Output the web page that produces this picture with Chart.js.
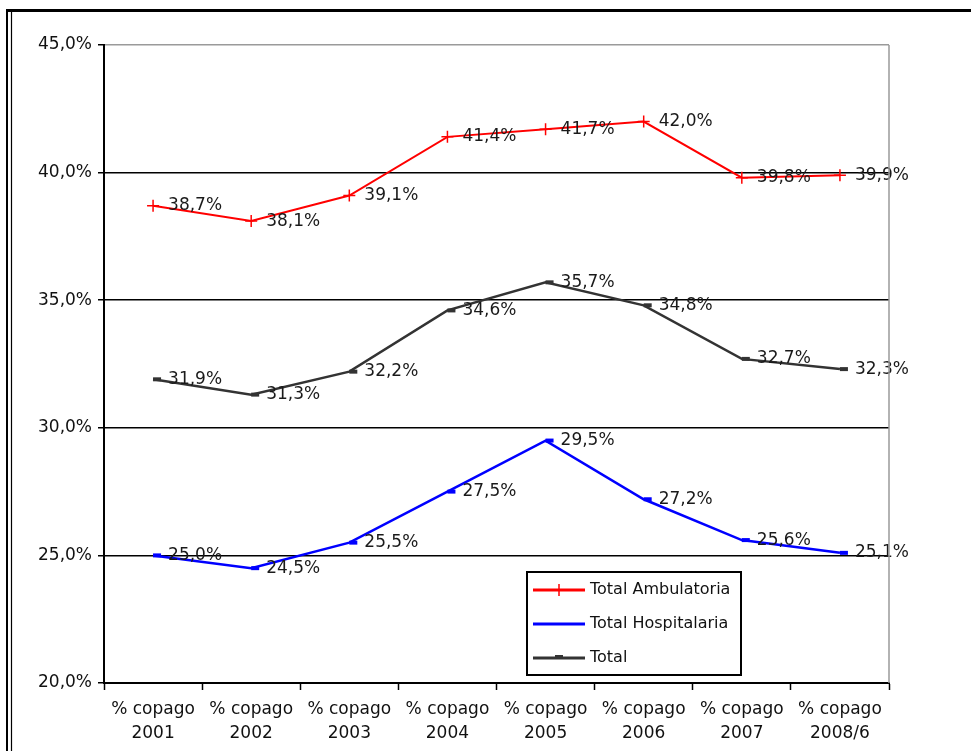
<!DOCTYPE html>
<html>
<head>
<meta charset="utf-8">
<script src="https://cdn.jsdelivr.net/npm/chart.js@4/dist/chart.umd.min.js"></script>
<style>
  html, body { margin: 0; padding: 0; background: #fff; }
  canvas { display: block; }
</style>
</head>
<body>
<canvas id="chart" width="971" height="751"></canvas>
<script>
// Copago por tipo de prestación, 2001 – 2008/6
const categories = [
  ['% copago', '2001'], ['% copago', '2002'], ['% copago', '2003'], ['% copago', '2004'],
  ['% copago', '2005'], ['% copago', '2006'], ['% copago', '2007'], ['% copago', '2008/6']
];
const ambulatoria  = [38.7, 38.1, 39.1, 41.4, 41.7, 42.0, 39.8, 39.9];
const hospitalaria = [25.0, 24.5, 25.5, 27.5, 29.5, 27.2, 25.6, 25.1];
const total        = [31.9, 31.3, 32.2, 34.6, 35.7, 34.8, 32.7, 32.3];
const seriesNames  = ['Total Ambulatoria', 'Total Hospitalaria', 'Total'];
const yTicks       = [20, 25, 30, 35, 40, 45];

const FONT = 'DejaVu Sans';
const pct = v => v.toFixed(1).replace('.', ',') + '%';

// White page with the black frame along the top and left edges
const framePlugin = {
  id: 'frame',
  beforeDraw(chart) {
    const ctx = chart.ctx;
    ctx.save();
    ctx.fillStyle = '#fff';
    ctx.fillRect(0, 0, chart.width, chart.height);
    ctx.strokeStyle = '#000';
    ctx.lineWidth = 3;
    ctx.beginPath();
    ctx.moveTo(7, 10.5); ctx.lineTo(chart.width, 10.5);
    ctx.stroke();
    ctx.lineWidth = 2;
    ctx.beginPath();
    ctx.moveTo(7, 9); ctx.lineTo(7, chart.height);
    ctx.stroke();
    ctx.lineWidth = 1.2;
    ctx.beginPath();
    ctx.moveTo(11.5, 12); ctx.lineTo(11.5, chart.height);
    ctx.stroke();
    ctx.restore();
  },
  afterDraw(chart) {
    // grey right edge of the plot area
    const { ctx, chartArea: a } = chart;
    ctx.save();
    ctx.strokeStyle = '#9a9a9a';
    ctx.lineWidth = 1.5;
    ctx.beginPath();
    ctx.moveTo(a.right, a.top);
    ctx.lineTo(a.right, a.bottom);
    ctx.stroke();
    ctx.restore();
  }
};

// Value labels to the right of each point
const valueLabels = {
  id: 'valueLabels',
  afterDatasetsDraw(chart) {
    const ctx = chart.ctx;
    ctx.save();
    ctx.font = '17px "' + FONT + '"';
    ctx.fillStyle = '#1a1a1a';
    ctx.textAlign = 'left';
    ctx.textBaseline = 'middle';
    chart.data.datasets.forEach((ds, i) => {
      chart.getDatasetMeta(i).data.forEach((pt, j) => {
        ctx.fillText(pct(ds.data[j]), pt.x + 15, pt.y);
      });
    });
    ctx.restore();
  }
};

// Boxed legend inside the plot area
const boxLegend = {
  id: 'boxLegend',
  afterDraw(chart) {
    const { ctx, chartArea: a } = chart;
    const x0 = a.left + 423, y0 = a.bottom - 111, w = 214, h = 103;
    ctx.save();
    ctx.fillStyle = '#fff';
    ctx.fillRect(x0, y0, w, h);
    ctx.strokeStyle = '#000';
    ctx.lineWidth = 2;
    ctx.strokeRect(x0, y0, w, h);
    chart.data.datasets.forEach((ds, i) => {
      const y = y0 + 18 + i * 34;
      const lx0 = x0 + 6, lx1 = x0 + 58, mx = (lx0 + lx1) / 2;
      ctx.strokeStyle = ds.borderColor;
      ctx.lineWidth = 3;
      ctx.beginPath();
      ctx.moveTo(lx0, y); ctx.lineTo(lx1, y);
      ctx.stroke();
      if (ds.pointStyle === 'cross') {
        ctx.lineWidth = 1.5;
        ctx.beginPath();
        ctx.moveTo(mx, y - 6); ctx.lineTo(mx, y + 6);
        ctx.stroke();
      } else if (i === 2) {
        ctx.fillStyle = ds.borderColor;
        ctx.fillRect(mx - 4, y - 3, 8, 3);
      }
      ctx.fillStyle = '#111';
      ctx.font = '16px "' + FONT + '"';
      ctx.textBaseline = 'middle';
      ctx.textAlign = 'left';
      ctx.fillText(ds.label, lx1 + 5, y);
    });
    ctx.restore();
  }
};

new Chart(document.getElementById('chart'), {
  type: 'line',
  data: {
    labels: categories,
    datasets: [
      {
        label: seriesNames[0], data: ambulatoria,
        borderColor: '#ff0000', backgroundColor: '#ff0000',
        borderWidth: 2, pointStyle: 'cross', pointRadius: 6,
        pointBorderWidth: 1.5, tension: 0
      },
      {
        label: seriesNames[1], data: hospitalaria,
        borderColor: '#0000ff', backgroundColor: '#0000ff',
        borderWidth: 2.5, pointStyle: 'dash', pointRadius: 8,
        pointBorderWidth: 4, tension: 0
      },
      {
        label: seriesNames[2], data: total,
        borderColor: '#333333', backgroundColor: '#333333',
        borderWidth: 2.5, pointStyle: 'dash', pointRadius: 8,
        pointBorderWidth: 4, tension: 0
      }
    ]
  },
  options: {
    responsive: false,
    animation: false,
    devicePixelRatio: 1,
    layout: { padding: { left: 0, top: 45, right: 82, bottom: 0 } },
    plugins: {
      legend: { display: false },
      tooltip: { enabled: false }
    },
    scales: {
      x: {
        type: 'category',
        offset: true,
        border: { color: '#000', width: 2 },
        grid: {
          offset: true, drawOnChartArea: false,
          tickLength: 7, tickColor: '#000', tickWidth: 1.5
        },
        ticks: {
          color: '#111', maxRotation: 0, autoSkip: false, padding: 8,
          font: { family: FONT, size: 17, lineHeight: 1.4 }
        },
        afterFit: s => { s.height = 68; }
      },
      y: {
        min: 20, max: 45,
        border: { color: '#000', width: 2 },
        grid: {
          color: c => (c.tick && c.tick.value === 45) ? '#9a9a9a' : '#000',
          lineWidth: 1.5, tickLength: 6, tickColor: '#000', tickWidth: 1.5
        },
        afterBuildTicks: s => { s.ticks = yTicks.map(v => ({ value: v })); },
        ticks: {
          color: '#111', padding: 6,
          font: { family: FONT, size: 17 },
          callback: v => pct(v)
        },
        afterFit: s => { s.width = 104; }
      }
    }
  },
  plugins: [framePlugin, valueLabels, boxLegend]
});
</script>
</body>
</html>
